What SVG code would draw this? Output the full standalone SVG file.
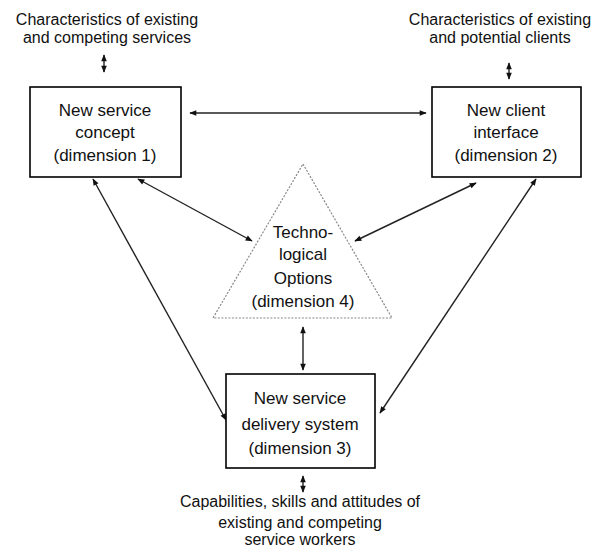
<svg xmlns="http://www.w3.org/2000/svg" width="598" height="550" viewBox="0 0 598 550">
<style>
.box{fill:#fff;stroke:#000;stroke-width:1.6}
.tri{fill:#fff;stroke:#888;stroke-width:1.2;stroke-dasharray:2 1.5}
.t{font-family:"Liberation Sans",Arial,sans-serif;font-size:17px;fill:#111;text-anchor:middle}
.s{font-family:"Liberation Sans",Arial,sans-serif;font-size:16px;fill:#111;text-anchor:middle}
.c{stroke:#222;stroke-width:1.4;fill:none;marker-start:url(#ah);marker-end:url(#ah)}
</style>
<defs>
<marker id="ah" viewBox="0 0 10 10" refX="9" refY="5" markerWidth="10" markerHeight="7" markerUnits="userSpaceOnUse" orient="auto-start-reverse">
<path d="M0,1 L10,5 L0,9 z" fill="#111"/>
</marker>
</defs>
<rect width="598" height="550" fill="#fff"/>
<g id="connectors">
<line class="c" x1="190" y1="113" x2="426" y2="113"/>
<line class="c" x1="138" y1="179" x2="252" y2="241"/>
<line class="c" x1="476" y1="183" x2="355" y2="241"/>
<line class="c" x1="93" y1="179" x2="226" y2="420"/>
<line class="c" x1="536" y1="179" x2="380" y2="413"/>
<line class="c" x1="303" y1="327" x2="303" y2="370"/>
<line class="c" x1="104" y1="55" x2="104" y2="72"/>
<line class="c" x1="509" y1="63" x2="509" y2="79"/>
<line class="c" x1="303" y1="476" x2="303" y2="492"/>
</g>
<g id="top-left-label">
<text class="s" x="107" y="25">Characteristics of existing</text>
<text class="s" x="107" y="43">and competing services</text>
</g>
<g id="top-right-label">
<text class="s" x="500" y="25">Characteristics of existing</text>
<text class="s" x="500" y="43">and potential clients</text>
</g>
<g id="dimension1">
<rect class="box" x="30" y="87" width="151" height="90"/>
<text class="t" x="105" y="116">New service</text>
<text class="t" x="105" y="138">concept</text>
<text class="t" x="105" y="161">(dimension 1)</text>
</g>
<g id="dimension2">
<rect class="box" x="432" y="87" width="149" height="90"/>
<text class="t" x="506" y="116">New client</text>
<text class="t" x="506" y="138">interface</text>
<text class="t" x="506" y="161">(dimension 2)</text>
</g>
<g id="dimension4">
<polygon class="tri" points="303,164 392,318 213,318"/>
<text class="t" x="303" y="238">Techno-</text>
<text class="t" x="303" y="260">logical</text>
<text class="t" x="303" y="284">Options</text>
<text class="t" x="303" y="307">(dimension 4)</text>
</g>
<g id="dimension3">
<rect class="box" x="226" y="374" width="149" height="94"/>
<text class="t" x="300" y="404">New service</text>
<text class="t" x="300" y="430">delivery system</text>
<text class="t" x="300" y="454">(dimension 3)</text>
</g>
<g id="bottom-label">
<text class="s" x="300" y="507">Capabilities, skills and attitudes of</text>
<text class="s" x="300" y="528">existing and competing</text>
<text class="s" x="300" y="545">service workers</text>
</g>
</svg>
